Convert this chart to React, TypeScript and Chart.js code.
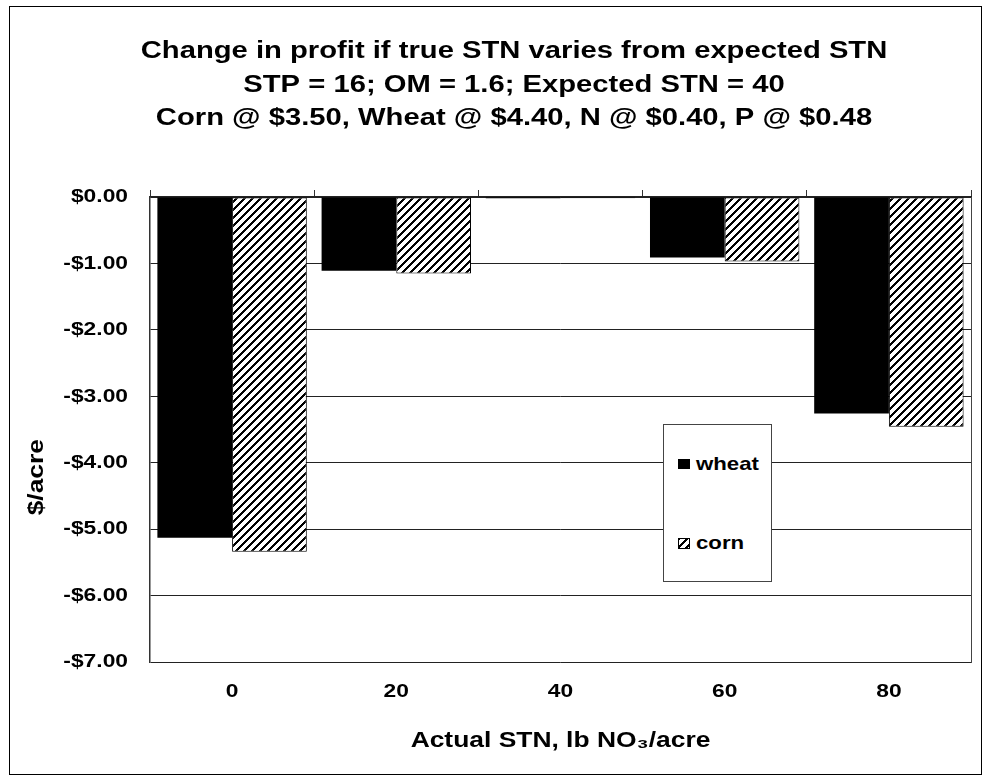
import React, { useEffect, useRef } from 'react';
import { Chart, registerables } from 'chart.js';

Chart.register(...registerables);

const categories = ['0', '20', '40', '60', '80'];
const seriesNames = ['wheat', 'corn'];
const wheatValues = [-5.13, -1.11, -0.02, -0.91, -3.26];
const cornValues = [-5.34, -1.15, -0.02, -0.97, -3.46];
const yTickLabels = ['$0.00', '-$1.00', '-$2.00', '-$3.00', '-$4.00', '-$5.00', '-$6.00', '-$7.00'];
const titleLines = [
  'Change in profit if true STN varies from expected STN',
  'STP = 16; OM = 1.6; Expected STN = 40',
  'Corn @ $3.50, Wheat @ $4.40, N @ $0.40, P @ $0.48',
];
const xAxisTitle = 'Actual STN, lb NO\u2083/acre';
const yAxisTitle = '$/acre';

const FONT = '"Liberation Sans", Arial, Helvetica, sans-serif';

function makeHatchTile(): HTMLCanvasElement {
  const c = document.createElement('canvas');
  c.width = 8;
  c.height = 8;
  const g = c.getContext('2d') as CanvasRenderingContext2D;
  const img = g.createImageData(8, 8);
  for (let y = 0; y < 8; y++) {
    for (let x = 0; x < 8; x++) {
      const black = (x + y) % 8 < 3;
      const i = (y * 8 + x) * 4;
      const v = black ? 0 : 255;
      img.data[i] = v;
      img.data[i + 1] = v;
      img.data[i + 2] = v;
      img.data[i + 3] = 255;
    }
  }
  g.putImageData(img, 0, 0);
  return c;
}

// The reference renders its bold sans text noticeably wide; widen glyphs horizontally.
function widenText(ctx: any) {
  if (ctx.__widened) return;
  ctx.__widened = true;
  const fill = ctx.fillText.bind(ctx);
  const measure = ctx.measureText.bind(ctx);
  const sx = () => (/\b23px/.test(ctx.font) ? 1.27 : 1.2);
  ctx.fillText = (text: string, x: number, y: number) => {
    const s = sx();
    ctx.save();
    ctx.translate(x, y);
    ctx.scale(s, 1);
    fill(text, 0, 0);
    ctx.restore();
  };
  ctx.measureText = (text: string) => {
    const m = measure(text);
    const s = sx();
    return {
      width: m.width * s,
      actualBoundingBoxAscent: m.actualBoundingBoxAscent,
      actualBoundingBoxDescent: m.actualBoundingBoxDescent,
      actualBoundingBoxLeft: m.actualBoundingBoxLeft * s,
      actualBoundingBoxRight: m.actualBoundingBoxRight * s,
      fontBoundingBoxAscent: m.fontBoundingBoxAscent,
      fontBoundingBoxDescent: m.fontBoundingBoxDescent,
    };
  };
}

export default function App() {
  const canvasRef = useRef<HTMLCanvasElement>(null);
  const markerRef = useRef<HTMLCanvasElement>(null);

  useEffect(() => {
    const canvas = canvasRef.current;
    if (!canvas) return;
    const ctx = canvas.getContext('2d') as CanvasRenderingContext2D;
    widenText(ctx);
    const tile = makeHatchTile();
    const pattern = ctx.createPattern(tile, 'repeat') as CanvasPattern;

    const mk = markerRef.current;
    if (mk) {
      const mc = mk.getContext('2d') as CanvasRenderingContext2D;
      mc.clearRect(0, 0, mk.width, mk.height);
      mc.fillStyle = mc.createPattern(tile, 'repeat') as CanvasPattern;
      mc.fillRect(0, 0, mk.width, mk.height);
      mc.strokeStyle = '#000';
      mc.lineWidth = 1;
      mc.strokeRect(0.5, 0.5, mk.width - 1, mk.height - 1);
    }

    Chart.defaults.font.family = FONT;
    Chart.defaults.color = '#000';

    const chart = new Chart(canvas, {
      type: 'bar',
      data: {
        labels: categories,
        datasets: [
          {
            label: seriesNames[0],
            data: wheatValues,
            backgroundColor: '#000',
            borderWidth: 0,
            xAxisID: 'x',
            yAxisID: 'y',
          },
          {
            label: seriesNames[1],
            data: cornValues,
            backgroundColor: pattern,
            borderColor: '#000',
            borderWidth: 1,
            borderSkipped: false,
            xAxisID: 'x',
            yAxisID: 'y',
          },
        ],
      },
      options: {
        responsive: false,
        animation: false,
        datasets: { bar: { categoryPercentage: 0.91, barPercentage: 1 } },
        layout: { padding: 0 },
        plugins: {
          legend: { display: false },
          tooltip: { enabled: false },
          title: {
            display: true,
            text: titleLines,
            color: '#000',
            font: { family: FONT, size: 23, weight: 'bold', lineHeight: '33.6px' },
            padding: { top: 28, bottom: 54.2 },
          },
        },
        scales: {
          x: {
            type: 'category',
            position: 'bottom',
            offset: true,
            grid: { display: false, drawTicks: false },
            border: { display: false },
            ticks: {
              font: { family: FONT, size: 19, weight: 'bold' },
              color: '#000',
              padding: 18,
              maxRotation: 0,
              autoSkip: false,
            },
            title: {
              display: true,
              text: xAxisTitle,
              color: '#000',
              font: { family: FONT, size: 22, weight: 'bold' },
              padding: { top: 0, bottom: 20 },
            },
            afterFit: (s: any) => {
              s.height = 112;
            },
          },
          xTop: {
            type: 'category',
            position: 'top',
            offset: true,
            grid: {
              offset: true,
              drawOnChartArea: false,
              drawTicks: true,
              tickLength: 7,
              color: '#333',
              lineWidth: 1,
            },
            ticks: { display: false },
            border: { display: true, color: '#222', width: 1.5 },
            afterFit: (s: any) => {
              s.height = 7;
            },
          },
          y: {
            type: 'linear',
            position: 'left',
            min: -7,
            max: 0,
            ticks: {
              stepSize: 1,
              font: { family: FONT, size: 19, weight: 'bold' },
              color: '#000',
              padding: 22,
              callback: (v: any) => yTickLabels[Math.round(-Number(v))],
            },
            grid: { color: '#222', lineWidth: 1, drawTicks: false },
            border: { display: true, color: '#333', width: 1.5 },
            title: {
              display: true,
              text: yAxisTitle + '             ',
              color: '#000',
              font: { family: FONT, size: 22, weight: 'bold' },
              padding: { top: 14, bottom: 0 },
            },
            afterFit: (s: any) => {
              s.width = 140;
            },
          },
          yRight: {
            type: 'linear',
            position: 'right',
            min: -7,
            max: 0,
            ticks: { display: false },
            grid: { drawOnChartArea: false, drawTicks: false },
            border: { display: true, color: '#444', width: 1 },
            afterFit: (s: any) => {
              s.width = 47;
            },
          },
        },
      },
    } as any);

    return () => chart.destroy();
  }, []);

  const legendText: React.CSSProperties = {
    position: 'absolute',
    left: 32,
    font: `bold 18.5px ${FONT}`,
    lineHeight: '18.5px',
    transform: 'scaleX(1.2)',
    transformOrigin: 'left center',
    whiteSpace: 'nowrap',
    color: '#000',
  };

  return (
    <div
      style={{
        position: 'absolute',
        left: 9,
        top: 6,
        width: 973,
        height: 769,
        border: '1px solid #000',
        boxSizing: 'border-box',
        overflow: 'hidden',
        background: '#fff',
      }}
    >
      <canvas
        ref={canvasRef}
        width={1008}
        height={767}
        style={{ position: 'absolute', left: 0, top: 0, width: '1008px', height: '767px' }}
      />
      <div
        style={{
          position: 'absolute',
          left: 653,
          top: 417,
          width: 109,
          height: 158,
          border: '1px solid #444',
          boxSizing: 'border-box',
          background: '#fff',
        }}
      >
        <div style={{ position: 'absolute', left: 14, top: 34, width: 12, height: 10, background: '#000' }} />
        <span style={{ ...legendText, top: 30.4 }}>{seriesNames[0]}</span>
        <canvas
          ref={markerRef}
          width={12}
          height={11}
          style={{ position: 'absolute', left: 14, top: 113, width: '12px', height: '11px' }}
        />
        <span style={{ ...legendText, top: 109.4 }}>{seriesNames[1]}</span>
      </div>
    </div>
  );
}
